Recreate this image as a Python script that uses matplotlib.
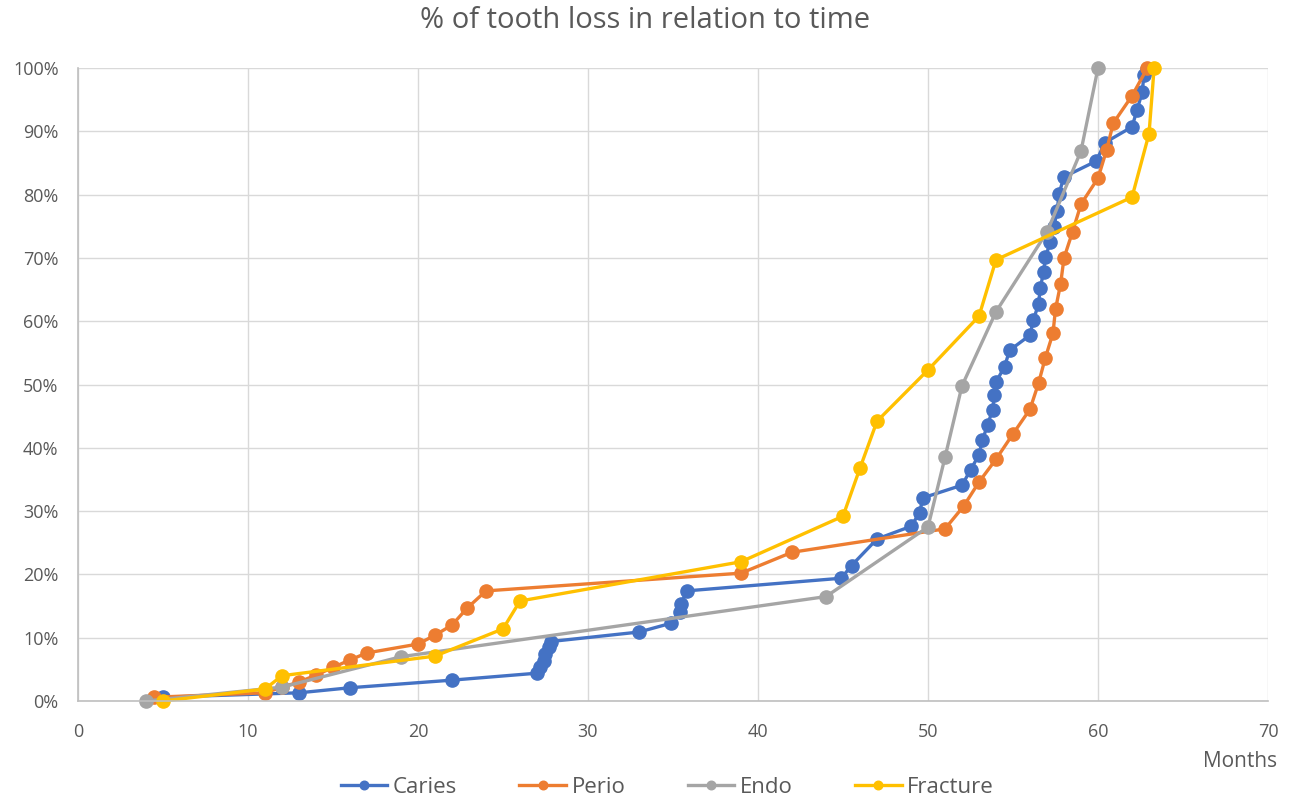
import matplotlib.pyplot as plt
from matplotlib.ticker import PercentFormatter

# months / cumulative % of tooth loss per cause
caries_x = [5, 13, 16, 22, 27.0, 27.2, 27.4, 27.5, 27.7, 27.8, 33, 34.9, 35.4, 35.5, 35.8,
            44.9, 45.5, 47, 49, 49.5, 49.7, 52, 52.5, 53, 53.2, 53.5, 53.8, 53.9, 54, 54.5,
            54.8, 56, 56.2, 56.5, 56.6, 56.8, 56.9, 57.2, 57.4, 57.6, 57.7, 58, 59.9, 60.4,
            62, 62.3, 62.6, 62.7, 62.9]
caries_y = [0.6, 1.3, 2.1, 3.3, 4.4, 5.4, 6.4, 7.5, 8.5, 9.4, 10.9, 12.3, 14.0, 15.4, 17.4,
            19.4, 21.4, 25.6, 27.6, 29.7, 32.1, 34.1, 36.5, 38.9, 41.2, 43.6, 46.0, 48.3, 50.4, 52.8,
            55.4, 57.8, 60.2, 62.7, 65.2, 67.8, 70.1, 72.5, 74.9, 77.4, 80.1, 82.8, 85.3, 88.2,
            90.7, 93.4, 96.2, 98.9, 99.8]

perio_x = [4.5, 11, 12, 13, 14, 15, 16, 17, 20, 21, 22, 22.9, 24, 39, 42, 51, 52.1, 53, 54,
           55, 56, 56.5, 56.9, 57.35, 57.5, 57.8, 58, 58.5, 59, 60, 60.5, 60.9, 62, 62.9]
perio_y = [0.6, 1.3, 2.2, 3.0, 4.1, 5.3, 6.5, 7.6, 9.0, 10.4, 12.0, 14.7, 17.4, 20.2, 23.5,
           27.2, 30.8, 34.6, 38.2, 42.2, 46.1, 50.2, 54.2, 58.1, 61.9, 65.9, 70.0, 74.1, 78.5,
           82.6, 87.0, 91.3, 95.6, 100]

endo_x = [4, 12, 19, 44, 50, 51, 52, 54, 57, 59, 60]
endo_y = [0, 2.2, 7.0, 16.5, 27.5, 38.5, 49.8, 61.5, 74.1, 86.9, 100]

fracture_x = [5, 11, 12, 21, 25, 26, 39, 45, 46, 47, 50, 53, 54, 62, 63, 63.3]
fracture_y = [0, 1.9, 4.0, 7.1, 11.4, 15.8, 22.0, 29.2, 36.8, 44.2, 52.3, 60.8, 69.7, 79.6,
              89.6, 100]

series = [
    ("Caries", caries_x, caries_y, "#4472C4"),
    ("Perio", perio_x, perio_y, "#ED7D31"),
    ("Endo", endo_x, endo_y, "#A5A5A5"),
    ("Fracture", fracture_x, fracture_y, "#FFC000"),
]

plt.rcParams['font.family'] = ['Open Sans', 'DejaVu Sans']

fig = plt.figure(figsize=(12.91, 8.01), dpi=100)
ax = fig.add_axes([0.0604, 0.1248, 0.9218, 0.7903])

for name, xs, ys, color in series:
    ax.plot(xs, [v / 100 for v in ys], color=color, lw=2.4, marker="o",
            markersize=9.5, label=name, clip_on=False)

ax.set_xlim(0, 70)
ax.set_ylim(0, 1)
ax.set_xticks(range(0, 71, 10))
ax.set_yticks([i / 10 for i in range(11)])
ax.yaxis.set_major_formatter(PercentFormatter(1.0, decimals=0))
ax.grid(True, color="#d9d9d9", lw=1)
ax.set_axisbelow(True)
ax.tick_params(length=0, labelsize=13, labelcolor="#595959")
ax.tick_params(axis="x", pad=16)
ax.tick_params(axis="y", pad=14)
for side in ["top", "right"]:
    ax.spines[side].set_visible(False)
for side in ["left", "bottom"]:
    ax.spines[side].set_color("#bfbfbf")
    ax.spines[side].set_linewidth(1.2)

fig.text(0.5, 0.975, "% of tooth loss in relation to time", ha="center", va="center",
         fontsize=21, color="#595959")
fig.text(0.989, 0.049, "Months", ha="right", va="center", fontsize=15, color="#595959")

fig.legend(loc="center", bbox_to_anchor=(0.517, 0.017), ncol=4, frameon=False,
           fontsize=16, labelcolor="#595959", handlelength=2.1, handletextpad=0.25,
           columnspacing=2.8, markerscale=0.65)

fig.savefig("out.png", dpi=100)
